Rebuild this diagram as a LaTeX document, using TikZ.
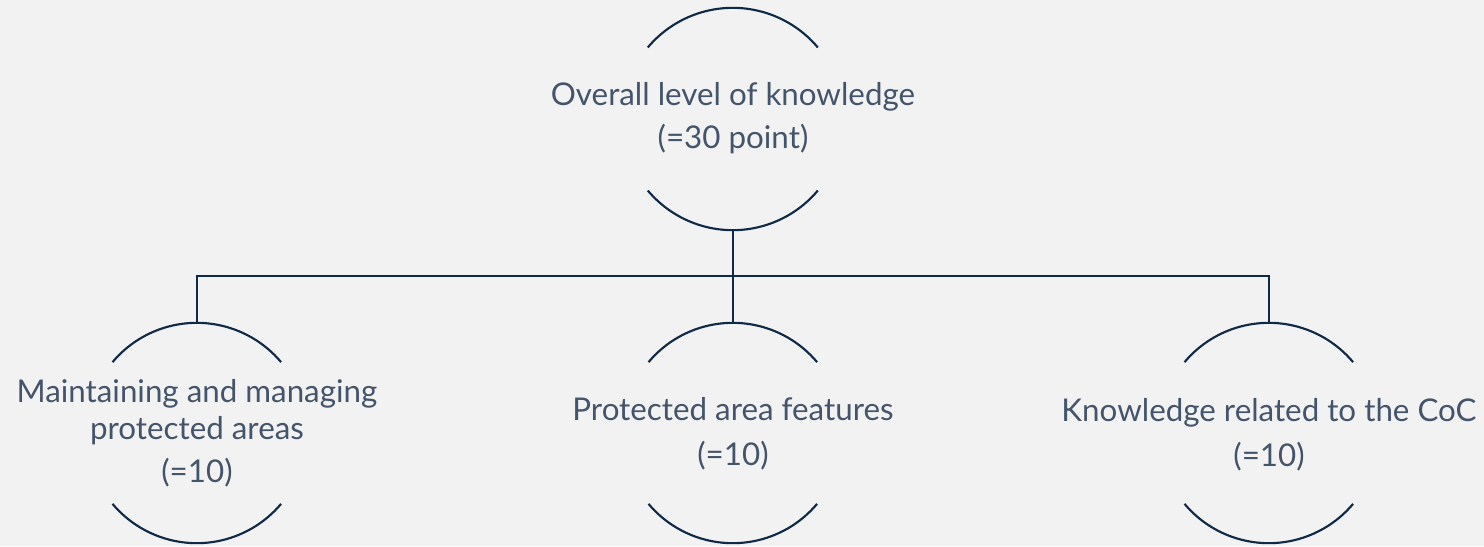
\documentclass[tikz,border=0pt]{standalone}
\usepackage{fontspec}
\setmainfont{Lato}
\definecolor{bg}{HTML}{F2F2F2}
\definecolor{linec}{HTML}{0F2A47}
\definecolor{textc}{HTML}{44546A}
\tikzset{
  ring/.style={circle, minimum size=#1, inner sep=0pt},
  arcline/.style={draw=linec, line width=1.6pt},
  conn/.style={draw=linec, line width=1.6pt},
  label/.style={text=textc, align=center, font=\fontsize{23.5}{27.75}\selectfont, inner sep=0pt}
}
\begin{document}
\begin{tikzpicture}[x=0.75pt,y=-0.75pt]
\fill[bg] (0,0) rectangle (1484,546);
\useasboundingbox (0,0) rectangle (1484,546);
% rings
\node[ring=166.5pt] (top) at (733,119) {};
\node[ring=165pt] (c1) at (197,433) {};
\node[ring=165pt] (c2) at (733,433) {};
\node[ring=165pt] (c3) at (1269,433) {};
\draw[arcline] (top.140) arc[start angle=140, end angle=40, radius=83.25pt];
\draw[arcline] (top.220) arc[start angle=220, end angle=320, radius=83.25pt];
\foreach \n in {c1,c2,c3}{
  \draw[arcline] (\n.140) arc[start angle=140, end angle=40, radius=82.5pt];
  \draw[arcline] (\n.220) arc[start angle=220, end angle=320, radius=82.5pt];
}
% texts
\node[label] (ttop) at (733,118.5) {Overall level of knowledge\\[4.5pt](=30 point)};
\node[label] (t1) at (197,433) {Maintaining and managing\\protected areas\\[4.5pt](=10)};
\node[label] (t2) at (733,434) {Protected area features\\[6pt](=10)};
\node[label] (t3) at (1269,435) {Knowledge related to the CoC\\[6pt](=10)};
% connectors
\coordinate (j) at (733,276);
\draw[conn] (top.south) -- (c2.north);
\draw[conn] (c1.north) -- (c1.north |- j) -- (c3.north |- j) -- (c3.north);
\end{tikzpicture}
\end{document}
